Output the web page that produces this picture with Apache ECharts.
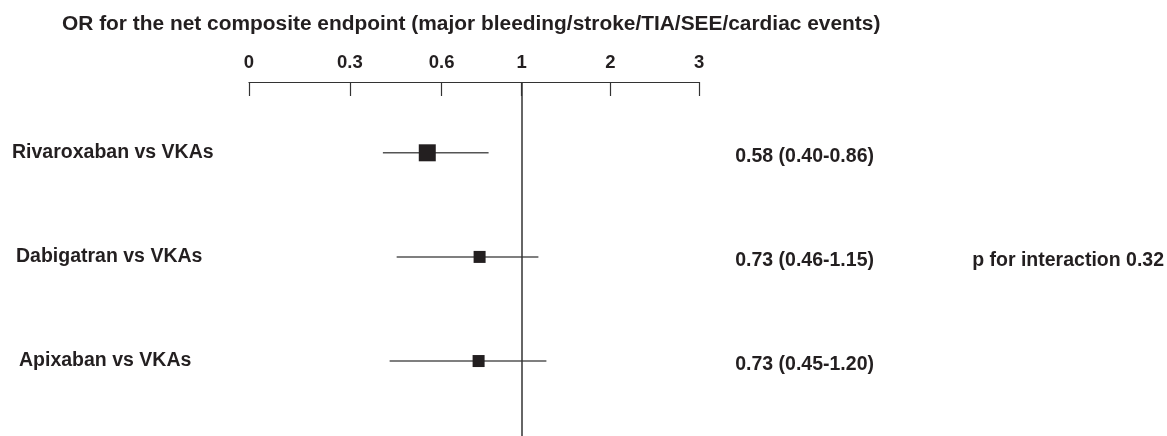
<!DOCTYPE html>
<html>
<head>
<meta charset="utf-8">
<script src="https://cdn.jsdelivr.net/npm/echarts@6/dist/echarts.min.js"></script>
<style>html,body{margin:0;padding:0;background:#fff;}#c{width:1167px;height:436px;}</style>
</head>
<body>
<div id="c"></div>
<script>
// ---- data ----
const titleText = 'OR for the net composite endpoint (major bleeding/stroke/TIA/SEE/cardiac events)';
const comparisons = ['Rivaroxaban vs VKAs', 'Dabigatran vs VKAs', 'Apixaban vs VKAs'];
const estimateLabels = ['0.58 (0.40-0.86)', '0.73 (0.46-1.15)', '0.73 (0.45-1.20)'];
const interactionText = 'p for interaction 0.32';
const tickValues = [0, 0.3, 0.6, 1, 2, 3];
const tickLabels = ['0', '0.3', '0.6', '1', '2', '3'];
// plotted positions (OR scale)
const pointOR = [0.553, 0.79, 0.785];
const lowOR = [0.408, 0.453, 0.43];
const highOR = [0.835, 1.19, 1.28];
const refOR = 1;

// ---- scale definition (piecewise-linear axis, as drawn in the figure) ----
const tickUnits = [0, 101, 193, 273, 362, 451];
function fwd(v) {
  for (let i = 0; i < tickValues.length - 1; i++) {
    if (v <= tickValues[i + 1] || i === tickValues.length - 2) {
      const t = (v - tickValues[i]) / (tickValues[i + 1] - tickValues[i]);
      return tickUnits[i] + t * (tickUnits[i + 1] - tickUnits[i]);
    }
  }
  return 0;
}
// styles
const markerSize = [17, 12, 12];
const labelIndent = [0, 4, 7];
const FONT = '"Liberation Sans", Arial, Helvetica, sans-serif';
const INK = '#231f20';
const LABEL_SIZE = 19.5;

const rows = comparisons.map((_, i) => i + 1);
const seriesData = rows.map((r, i) => [fwd(pointOR[i]), fwd(lowOR[i]), fwd(highOR[i]), r]);

const leftRich = {};
labelIndent.forEach((p, i) => {
  leftRich['r' + i] = {padding: [0, 0, 0, p], fontFamily: FONT, fontSize: LABEL_SIZE, fontWeight: 'bold', color: INK};
});

const chart = echarts.init(document.getElementById('c'), null, {renderer: 'canvas'});
chart.setOption({
  animation: false,
  backgroundColor: '#ffffff',
  title: {
    text: titleText,
    left: 57, top: 9,
    textStyle: {fontFamily: FONT, fontSize: 20.9, fontWeight: 'bold', color: INK}
  },
  grid: {left: 249, right: 467, top: 82, bottom: 0, containLabel: false},
  xAxis: {
    type: 'value', position: 'top', min: 0, max: tickUnits[tickUnits.length - 1],
    axisLine: {show: true, lineStyle: {color: '#333', width: 1.2}},
    axisTick: {show: true, inside: true, length: 14, customValues: tickValues.map(fwd), lineStyle: {color: '#333', width: 1.2}},
    axisLabel: {
      show: true, margin: 10, showMinLabel: true, showMaxLabel: true,
      customValues: tickValues.map(fwd),
      formatter: function (v) {
        let best = 0, d = Infinity;
        tickValues.forEach((t, i) => { const dd = Math.abs(fwd(t) - v); if (dd < d) { d = dd; best = i; } });
        return tickLabels[best];
      },
      fontFamily: FONT, fontSize: 18.5, fontWeight: 'bold', color: INK
    },
    splitLine: {show: false}
  },
  yAxis: [
    {
      type: 'value', inverse: true, min: 0.32, max: 3.72, position: 'left',
      axisLine: {show: false}, axisTick: {show: false}, splitLine: {show: false},
      axisLabel: {
        show: true, customValues: rows, align: 'left', margin: 237,
        formatter: v => {
          const i = Math.round(v) - 1;
          return '{r' + i + '|' + (comparisons[i] || '') + '}';
        },
        rich: leftRich,
        fontFamily: FONT, fontSize: LABEL_SIZE, fontWeight: 'bold', color: INK
      }
    },
    {
      type: 'value', inverse: true, min: 0.32, max: 3.72, position: 'right',
      axisLine: {show: false}, axisTick: {show: false}, splitLine: {show: false},
      axisLabel: {
        show: true, customValues: rows, align: 'left', margin: 36, padding: [8, 0, 0, 0],
        formatter: v => {
          const i = Math.round(v) - 1;
          if (i === 1) return '{a|' + estimateLabels[i] + '}{b|' + interactionText + '}';
          return '{a|' + (estimateLabels[i] || '') + '}';
        },
        rich: {
          a: {width: 237, fontFamily: FONT, fontSize: LABEL_SIZE, fontWeight: 'bold', color: INK},
          b: {fontFamily: FONT, fontSize: LABEL_SIZE, fontWeight: 'bold', color: INK}
        },
        fontFamily: FONT, fontSize: LABEL_SIZE, fontWeight: 'bold', color: INK
      }
    }
  ],
  series: [{
    type: 'custom',
    xAxisIndex: 0, yAxisIndex: 0,
    data: seriesData,
    encode: {x: [0, 1, 2], y: 3},
    renderItem: function (params, api) {
      const y = api.value(3);
      const p = api.coord([api.value(0), y]);
      const lo = api.coord([api.value(1), y]);
      const hi = api.coord([api.value(2), y]);
      const s = markerSize[params.dataIndex];
      return {
        type: 'group',
        children: [
          {type: 'line', shape: {x1: lo[0], y1: lo[1], x2: hi[0], y2: hi[1]}, style: {stroke: '#555', lineWidth: 1.5}},
          {type: 'rect', shape: {x: p[0] - s / 2, y: p[1] - s / 2, width: s, height: s}, style: {fill: INK}}
        ]
      };
    },
    markLine: {
      silent: true, symbol: 'none', label: {show: false},
      lineStyle: {color: '#333', width: 1.5, type: 'solid'},
      data: [{xAxis: fwd(refOR)}]
    }
  }]
});
</script>
</body>
</html>
